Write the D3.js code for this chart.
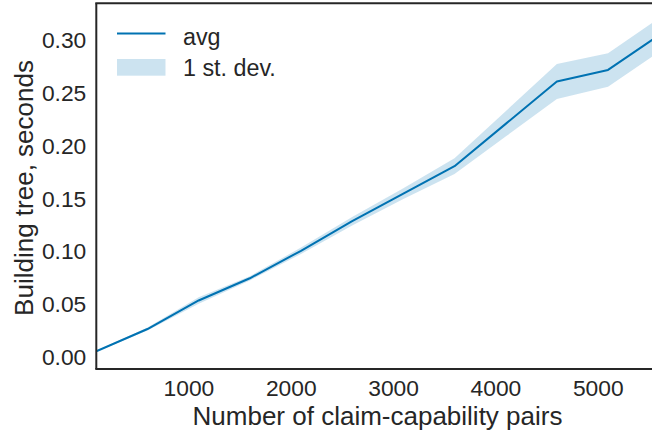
<!DOCTYPE html>
<html>
<head>
<meta charset="utf-8">
<script src="https://cdn.jsdelivr.net/npm/d3@7"></script>
<style>
  html, body { margin: 0; padding: 0; background: #fff; }
  svg { display: block; }
  text { font-family: "Liberation Sans", Arial, sans-serif; fill: #262626; }
</style>
</head>
<body>
<svg id="chart" width="652" height="434"></svg>
<script>
const pairs = [100, 600, 1100, 1600, 2100, 2600, 3100, 3600, 4100, 4600, 5100, 5600];
const avgSeconds = [0.005, 0.026, 0.053, 0.074, 0.100, 0.128, 0.154, 0.180, 0.220, 0.260, 0.271, 0.304];
const stdSeconds = [0.0005, 0.0015, 0.003, 0.002, 0.003, 0.004, 0.005, 0.0075, 0.012, 0.0165, 0.0158, 0.016];
const xTicks = [1000, 2000, 3000, 4000, 5000];
const yTicks = [0.00, 0.05, 0.10, 0.15, 0.20, 0.25, 0.30];
const xLabel = "Number of claim-capability pairs";
const yLabel = "Building tree, seconds";
const legendLabels = ["avg", "1 st. dev."];

(function () {
const lineColor = "#0072B2";
const bandColor = "rgba(0,114,178,0.2)";
const ink = "#262626";
const tickFont = "22.8px", labelFont = "26px", legendFont = "23.3px";

const svg = d3.select("#chart");
const pL = 96.3, pR = 659.2, pT = 3.3, pB = 369;

const x = d3.scaleLinear().domain([100, 5600]).range([pL, pR]);
const y = d3.scaleLinear().domain([-0.0118, 0.334]).range([pB, pT]);

const data = pairs.map((p, i) => ({ p, m: avgSeconds[i], s: stdSeconds[i] }));

svg.append("clipPath").attr("id", "plotclip")
  .append("rect").attr("x", pL).attr("y", pT).attr("width", pR - pL).attr("height", pB - pT);

const plot = svg.append("g").attr("clip-path", "url(#plotclip)");

plot.append("path")
  .datum(data)
  .attr("fill", bandColor)
  .attr("stroke", "none")
  .attr("d", d3.area().x(d => x(d.p)).y0(d => y(d.m - d.s)).y1(d => y(d.m + d.s)));

plot.append("path")
  .datum(data)
  .attr("fill", "none")
  .attr("stroke", lineColor)
  .attr("stroke-width", 2)
  .attr("stroke-linejoin", "round")
  .attr("d", d3.line().x(d => x(d.p)).y(d => y(d.m)));

const xAxis = svg.append("g").attr("transform", `translate(0,${pB})`)
  .call(d3.axisBottom(x).tickValues(xTicks).tickSize(0).tickFormat(d3.format("d")));
xAxis.select(".domain").remove();
xAxis.selectAll("text").style("font-size", tickFont).attr("fill", ink)
  .attr("y", 396 - pB).attr("dy", null);

const yAxis = svg.append("g").attr("transform", `translate(${pL},0)`)
  .call(d3.axisLeft(y).tickValues(yTicks).tickSize(0).tickPadding(10).tickFormat(d3.format(".2f")));
yAxis.select(".domain").remove();
yAxis.selectAll("text").style("font-size", tickFont).attr("fill", ink).attr("dy", "0.36em");

const spine = svg.append("g").attr("stroke", ink).attr("stroke-width", 2).attr("fill", "none");
spine.append("line").attr("x1", pL).attr("x2", pL).attr("y1", pT).attr("y2", pB);
spine.append("line").attr("x1", pL - 1).attr("x2", pR).attr("y1", pB).attr("y2", pB);
spine.append("line").attr("x1", pL - 1).attr("x2", pR).attr("y1", pT).attr("y2", pT);
spine.append("line").attr("x1", pR).attr("x2", pR).attr("y1", pT).attr("y2", pB);

svg.append("text")
  .attr("x", 377.5)
  .attr("y", 425)
  .attr("text-anchor", "middle")
  .style("font-size", labelFont)
  .text(xLabel);

svg.append("text")
  .attr("transform", `translate(33,188) rotate(-90)`)
  .attr("text-anchor", "middle")
  .style("font-size", labelFont)
  .text(yLabel);

const lg = svg.append("g");
lg.append("line").attr("x1", 117).attr("x2", 165.5).attr("y1", 33.5).attr("y2", 33.5)
  .attr("stroke", lineColor).attr("stroke-width", 2);
lg.append("rect").attr("x", 117).attr("y", 59).attr("width", 48.5).attr("height", 16.7)
  .attr("fill", bandColor);
lg.append("text").attr("x", 183).attr("y", 44.5).style("font-size", legendFont).text(legendLabels[0]);
lg.append("text").attr("x", 183).attr("y", 76).style("font-size", legendFont).text(legendLabels[1]);
})();
</script>
</body>
</html>
